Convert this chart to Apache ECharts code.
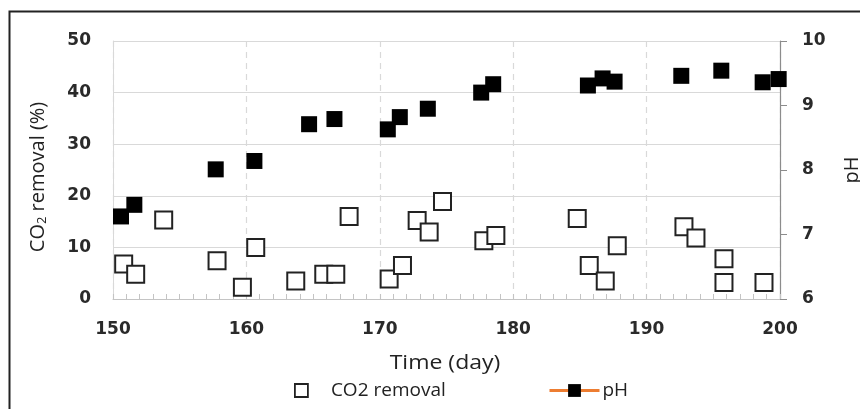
<!DOCTYPE html>
<html>
<head>
<meta charset="utf-8">
<script src="https://cdn.jsdelivr.net/npm/echarts@6/dist/echarts.min.js"></script>
<style>html,body{margin:0;padding:0;background:#fff}#c{width:860px;height:409px}</style>
</head>
<body>
<div id="c"></div>
<script>
// CO2 removal (%) vs time (day)
const co2Days = [150.8, 151.7, 153.8, 157.8, 159.7, 160.7, 163.7, 165.8, 166.7, 167.7, 170.7, 171.7, 172.8, 173.7, 174.7, 177.8, 178.7, 184.8, 185.7, 186.9, 187.8, 192.8, 193.7, 195.8, 195.8, 198.8];
const co2Values = [6.8, 4.8, 15.3, 7.4, 2.3, 10.0, 3.5, 4.8, 4.8, 16.0, 3.9, 6.5, 15.2, 13.0, 18.9, 11.3, 12.3, 15.6, 6.5, 3.5, 10.3, 14.0, 11.8, 7.8, 3.2, 3.2];
// pH vs time (day)
const phDays = [150.6, 151.6, 157.7, 160.6, 164.7, 166.6, 170.6, 171.5, 173.6, 177.6, 178.5, 185.6, 186.7, 187.6, 192.6, 195.6, 198.7, 199.9];
const phValues = [7.28, 7.46, 8.01, 8.14, 8.71, 8.79, 8.63, 8.82, 8.95, 9.20, 9.33, 9.31, 9.42, 9.37, 9.46, 9.54, 9.36, 9.41];
// axis ticks
const xTicks = [150, 160, 170, 180, 190, 200];
const leftTicks = [0, 10, 20, 30, 40, 50];
const rightTicks = [6, 7, 8, 9, 10];

const tickFont = {fontFamily: '"DejaVu Sans"', fontSize: 17, fontWeight: 'bold', color: '#2a2a2a'};

const chart = echarts.init(document.getElementById('c'), null, {renderer: 'canvas'});
chart.setOption({
  backgroundColor: '#fff',
  animation: false,
  grid: {left: 113, right: 80, top: 41, bottom: 110},
  xAxis: {
    type: 'value', min: xTicks[0], max: xTicks[xTicks.length - 1], interval: 10,
    axisLine: {show: true, lineStyle: {color: '#c4c4c4', width: 1}},
    axisTick: {show: true, inside: true, length: 5, lineStyle: {color: '#c4c4c4'}},
    minorTick: {show: true, splitNumber: 10, length: 5, lineStyle: {color: '#c4c4c4'}},
    axisLabel: Object.assign({margin: 22}, tickFont),
    splitLine: {show: true, lineStyle: {color: '#d9d9d9', type: [6, 5], width: 1.2}}
  },
  yAxis: [
    {
      type: 'value', min: leftTicks[0], max: leftTicks[leftTicks.length - 1], interval: 10,
      position: 'left',
      axisLine: {show: true, lineStyle: {color: '#d9d9d9', width: 1}},
      axisTick: {show: false},
      axisLabel: Object.assign({margin: 22}, tickFont),
      splitLine: {show: true, lineStyle: {color: '#d9d9d9', width: 1.2}}
    },
    {
      type: 'value', min: rightTicks[0], max: rightTicks[rightTicks.length - 1], interval: 1,
      position: 'right',
      axisLine: {show: true, lineStyle: {color: '#8c8c8c', width: 1.2}},
      axisTick: {show: true, inside: false, length: 7, lineStyle: {color: '#8c8c8c'}},
      axisLabel: Object.assign({margin: 22}, tickFont),
      splitLine: {show: false}
    }
  ],
  legend: [
    {
      left: 289, top: 376, itemWidth: 13, itemHeight: 13, itemGap: 0,
      textStyle: {fontFamily: '"Open Sans"', fontSize: 19, color: '#222', padding: [0, 0, 0, 18]},
      data: [{name: 'CO2 removal', icon: 'rect', itemStyle: {color: '#fff', borderColor: '#222', borderWidth: 1.8}}]
    },
    {
      left: 543, top: 376, itemWidth: 50, itemHeight: 16, itemGap: 0,
      textStyle: {fontFamily: '"Open Sans"', fontSize: 19, color: '#222', padding: [0, 0, 0, -2]},
      lineStyle: {color: '#ed7d31', width: 3, opacity: 1},
      itemStyle: {color: '#000'},
      data: [{name: 'pH'}]
    }
  ],
  series: [
    {
      name: 'CO2 removal', type: 'scatter', yAxisIndex: 0,
      symbol: 'rect', symbolSize: 17,
      itemStyle: {color: '#fff', borderColor: '#222', borderWidth: 2, opacity: 1},
      data: co2Days.map((d, i) => [d, co2Values[i]]),
      z: 2
    },
    {
      name: 'pH', type: 'line', yAxisIndex: 1,
      symbol: 'rect', symbolSize: 16, showSymbol: true,
      lineStyle: {color: '#ed7d31', width: 3, opacity: 0},
      itemStyle: {color: '#000', borderWidth: 0},
      data: phDays.map((d, i) => [d, phValues[i]]),
      z: 3
    }
  ],
  graphic: [
    {type: 'rect', shape: {x: 9.5, y: 11.5, width: 1000, height: 1000}, style: {fill: null, stroke: '#222', lineWidth: 2}, silent: true, z: -1},
    {
      type: 'text', x: 445, y: 363, scaleX: 1.15,
      style: {text: 'Time (day)', font: '20px "Open Sans"', fill: '#222', textAlign: 'center', textVerticalAlign: 'middle'}
    },
    {
      type: 'text', x: 38, y: 177, rotation: Math.PI / 2,
      style: {
        text: '{a|CO}{s|2}{a| removal (%)}',
        textAlign: 'center', textVerticalAlign: 'middle',
        rich: {
          a: {font: '20px "Open Sans"', fill: '#222', lineHeight: 26},
          s: {font: '13px "Open Sans"', fill: '#222', padding: [9, 0, 0, 0], lineHeight: 26}
        }
      }
    },
    {
      type: 'text', x: 852, y: 170, rotation: Math.PI / 2,
      style: {text: 'pH', font: '20px "Open Sans"', fill: '#222', textAlign: 'center', textVerticalAlign: 'middle'}
    }
  ]
});
</script>
</body>
</html>
